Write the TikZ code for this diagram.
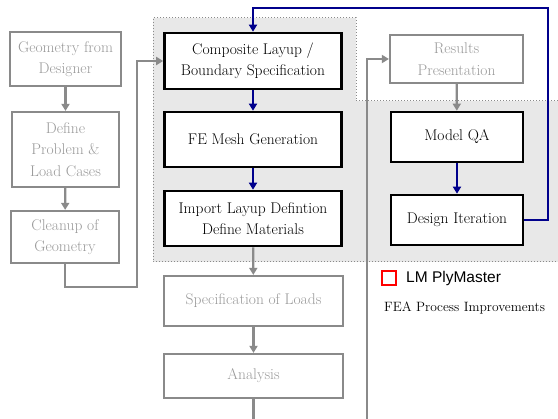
\documentclass[tikz,border=0pt]{standalone}
\usepackage{fontspec}
\newfontfamily\legendsans{Liberation Sans}
\usetikzlibrary{arrows.meta}
\definecolor{boxgray}{HTML}{8A8A8A}
\definecolor{txtgray}{HTML}{9A9A9A}
\definecolor{regiongray}{HTML}{E8E8E8}
\definecolor{loopblue}{HTML}{00008C}
\tikzset{
  base/.style={rectangle, align=center, inner sep=2pt, fill=white,
    font=\fontsize{15.5}{21.5}\selectfont},
  graybox/.style={base, draw=boxgray, line width=2.2pt, text=txtgray},
  blackbox/.style={base, draw=black, line width=2.6pt, text=black},
  tip/.style={-{Triangle[width=8pt,length=7pt]}},
  gline/.style={draw=boxgray, line width=2.2pt},
  garrow/.style={gline, tip},
  barrow/.style={draw=loopblue, line width=2.2pt, tip},
}
\begin{document}
\begin{tikzpicture}[x=1pt,y=-1pt]
\useasboundingbox (0,0) rectangle (558,419);
% shaded region
\fill[regiongray] (153,18) -- (356,18) -- (356,101) -- (558,101) -- (558,262) -- (153,262) -- cycle;
\draw[boxgray, line width=1pt, dotted] (558,101) -- (356,101) -- (356,18) -- (153,18) -- (153,262) -- (558,262);
% left column
\node[graybox, minimum width=111pt, minimum height=54pt] (geo) at (65.5,59) {Geometry from\\Designer};
\node[graybox, minimum width=107pt, minimum height=75pt] (def) at (65.5,149.5) {Define\\Problem \&\\Load Cases};
\node[graybox, minimum width=108pt, minimum height=52pt] (clean) at (65,237) {Cleanup of\\Geometry};
% middle column
\node[blackbox, minimum width=177pt, minimum height=56pt] (comp) at (253,61) {Composite Layup /\\Boundary Specification};
\node[blackbox, minimum width=177pt, minimum height=55pt] (fe) at (253,139.5) {FE Mesh Generation};
\node[blackbox, minimum width=177pt, minimum height=55pt] (imp) at (253,218.5) {Import Layup Defintion\\Define Materials};
\node[graybox, minimum width=179pt, minimum height=50pt] (spec) at (253.5,301) {Specification of Loads};
\node[graybox, minimum width=179pt, minimum height=44pt] (ana) at (253.5,376) {Analysis};
% right column
\node[graybox, minimum width=133pt, minimum height=48pt] (res) at (456.5,59) {Results\\Presentation};
\node[blackbox, minimum width=132pt, minimum height=50pt] (qa) at (457,137) {Model QA};
\node[blackbox, minimum width=132pt, minimum height=50pt] (di) at (457,220) {Design Iteration};
% coordinates
\coordinate (c1) at (137,287);
\coordinate (c2) at (367,419);
\coordinate (c3) at (253.5,419);
\coordinate (lp) at (548,8);
% connectors
\draw[garrow] (geo) -- (def);
\draw[garrow] (def) -- (clean);
\draw[garrow] (clean.south) |- (c1) |- (comp.west);
\draw[barrow] (comp) -- (fe);
\draw[barrow] (fe) -- (imp);
\draw[garrow] (imp) -- (spec);
\draw[garrow] (spec) -- (ana);
\draw[gline] (ana.south) -- (c3);
\draw[garrow] (c2) |- (res.west);
\draw[garrow] (res) -- (qa);
\draw[barrow] (qa) -- (di);
\draw[barrow] (di.east) -| (lp) -| (comp.north);
% legend
\node[draw=red, line width=2pt, minimum size=14pt, inner sep=0pt] (lsq) at (389,278) {};
\node[anchor=west, inner sep=0pt, font=\legendsans\fontsize{15.5}{18}\selectfont] (ltx) at (406,278) {LM PlyMaster};
\node[anchor=west, inner sep=0pt, font=\fontsize{13.5}{16}\selectfont] (cap) at (384,308) {FEA Process Improvements};
\end{tikzpicture}
\end{document}
